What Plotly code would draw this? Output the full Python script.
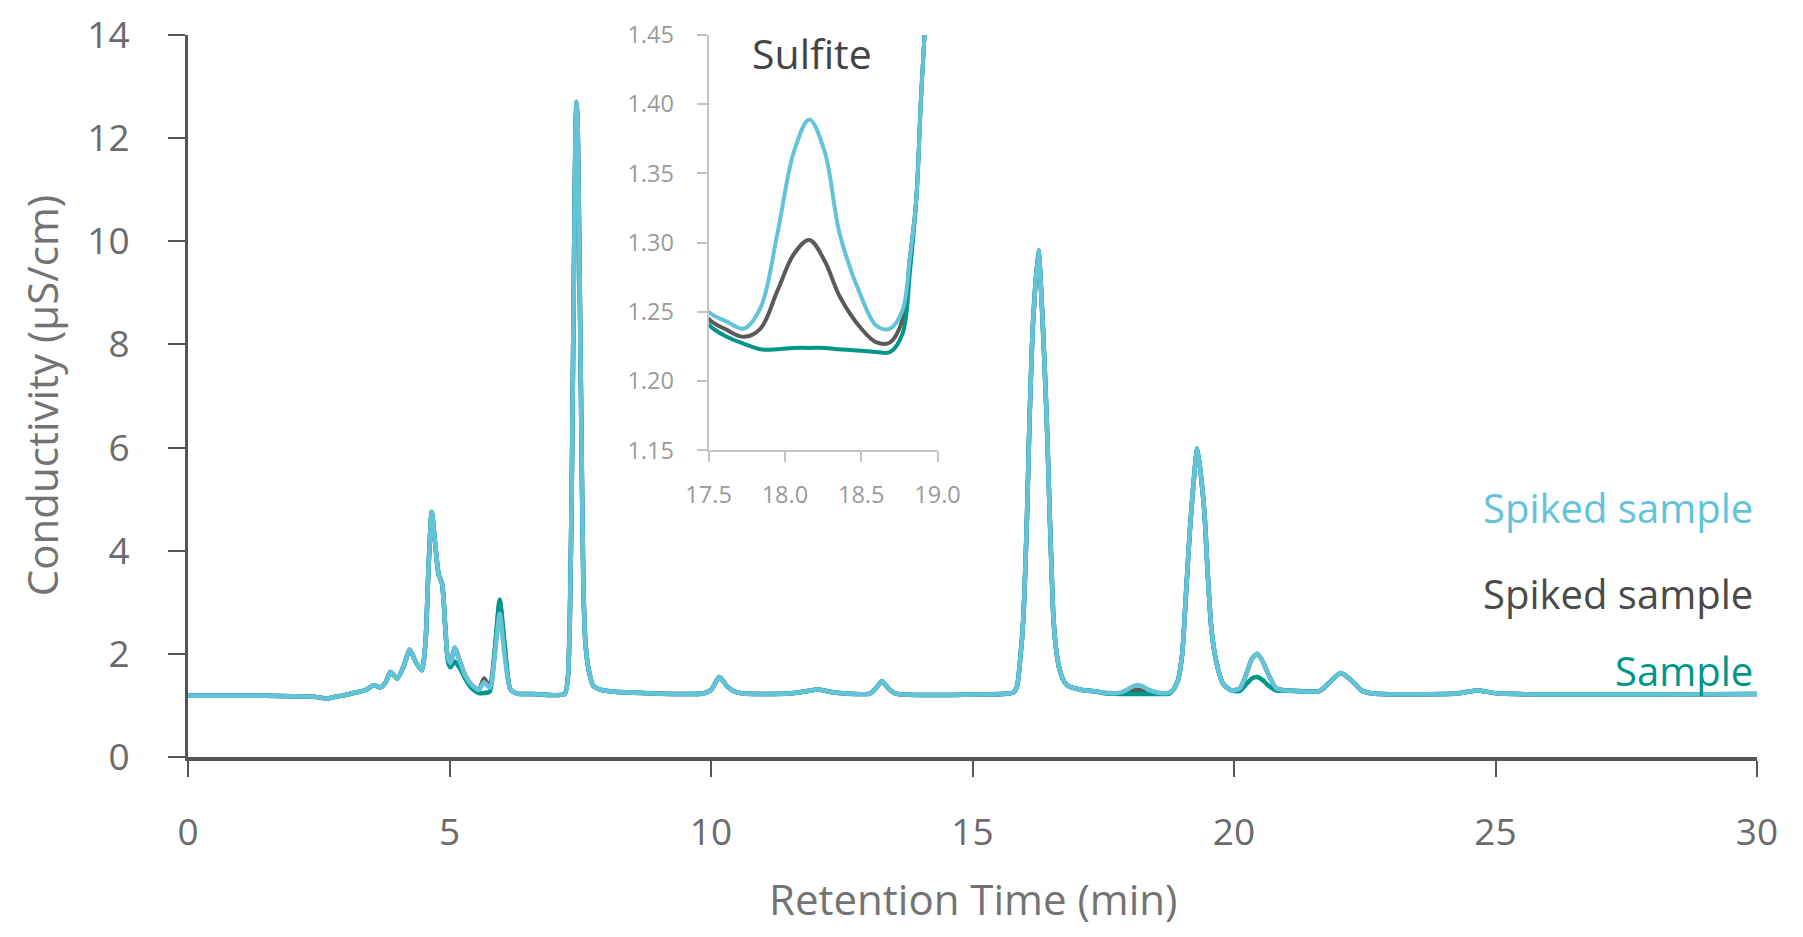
import plotly.graph_objects as go

# Retention time (min), shared by all three chromatograms
time_min = [0.0, 1.0, 2.0, 2.4, 2.55, 2.65, 2.78, 3.0, 3.2, 3.4, 3.55, 3.68, 3.78, 3.87, 4.0,
            4.12, 4.24, 4.35, 4.47, 4.54, 4.6, 4.66, 4.72, 4.79, 4.86, 4.92, 4.97, 5.02, 5.10,
            5.20, 5.30, 5.42, 5.56, 5.66, 5.77, 5.87, 5.96, 6.05, 6.16, 6.29, 6.6, 7.2, 7.26,
            7.30, 7.34, 7.38, 7.41, 7.43, 7.45, 7.48, 7.52, 7.56, 7.60, 7.66, 7.75, 7.9, 8.1,
            8.7, 9.85, 10.0, 10.16, 10.3, 10.43, 10.62, 11.5, 11.8, 12.05, 12.3, 12.6, 13.04,
            13.15, 13.27, 13.4, 13.53, 15.7, 15.78, 15.85, 15.91, 15.97, 16.04, 16.09, 16.16,
            16.26, 16.34, 16.42, 16.48, 16.55, 16.61, 16.67, 16.76, 16.86, 17.1, 17.37, 17.5,
            17.62, 17.73, 17.84, 17.95, 18.06, 18.16, 18.26, 18.36, 18.50, 18.60, 18.69, 18.77,
            18.82, 18.86, 18.89, 18.93, 19.01, 19.09, 19.17, 19.30, 19.43, 19.50, 19.57, 19.67,
            19.79, 19.95, 20.11, 20.24, 20.34, 20.44, 20.55, 20.65, 20.81, 21.0, 21.64, 21.83,
            22.04, 22.25, 22.44, 22.66, 24.25, 24.64, 25.08, 30.0]

# Conductivity (uS/cm) - spiked sample (light blue)
spiked_blue = [1.19, 1.19, 1.18, 1.17, 1.15, 1.13, 1.16, 1.20, 1.25, 1.30, 1.39, 1.35, 1.45, 1.65, 1.52,
               1.75, 2.08, 1.85, 1.68, 2.2, 3.7, 4.75, 4.2, 3.55, 3.35, 2.5, 1.9, 1.82, 2.12,
               1.85, 1.58, 1.40, 1.30, 1.45, 1.34, 2.0, 2.78, 2.0, 1.32, 1.23, 1.22, 1.22, 1.5,
               2.6, 5.5, 9.5, 12.2, 12.7, 12.3, 10.0, 6.5, 3.3, 2.2, 1.7, 1.38, 1.30, 1.27,
               1.24, 1.23, 1.30, 1.55, 1.38, 1.28, 1.23, 1.23, 1.27, 1.31, 1.26, 1.23, 1.23,
               1.33, 1.47, 1.32, 1.23, 1.23, 1.25, 1.36, 1.87, 2.65, 4.59, 6.53, 8.47,
               9.82, 8.47, 6.53, 4.59, 2.65, 2.0, 1.68, 1.45, 1.36, 1.30, 1.27, 1.250,
               1.243, 1.238, 1.253, 1.306, 1.366, 1.389, 1.366, 1.306, 1.261, 1.240, 1.238, 1.251,
               1.29, 1.33, 1.40, 1.49, 2.0, 3.30, 4.59, 5.98, 4.8, 3.5, 2.46, 1.81,
               1.42, 1.29, 1.33, 1.62, 1.90, 2.0, 1.85, 1.62, 1.33, 1.29, 1.28, 1.45,
               1.63, 1.48, 1.29, 1.23, 1.23, 1.29, 1.23, 1.22]

# Conductivity (uS/cm) - spiked sample (dark grey)
spiked_grey = [1.19, 1.19, 1.18, 1.17, 1.15, 1.13, 1.16, 1.20, 1.25, 1.30, 1.39, 1.35, 1.45, 1.65, 1.52,
               1.75, 2.08, 1.85, 1.68, 2.2, 3.7, 4.75, 4.2, 3.55, 3.35, 2.5, 1.9, 1.82, 2.12,
               1.85, 1.58, 1.40, 1.30, 1.52, 1.36, 2.1, 3.0, 2.2, 1.32, 1.23, 1.22, 1.22, 1.5,
               2.6, 5.5, 9.5, 12.2, 12.7, 12.3, 10.0, 6.5, 3.3, 2.2, 1.7, 1.38, 1.30, 1.27,
               1.24, 1.23, 1.30, 1.55, 1.38, 1.28, 1.23, 1.23, 1.27, 1.31, 1.26, 1.23, 1.23,
               1.33, 1.47, 1.32, 1.23, 1.23, 1.25, 1.36, 1.87, 2.65, 4.59, 6.53, 8.47,
               9.82, 8.47, 6.53, 4.59, 2.65, 2.0, 1.68, 1.45, 1.36, 1.30, 1.27, 1.245,
               1.237, 1.232, 1.238, 1.265, 1.292, 1.302, 1.287, 1.261, 1.238, 1.228, 1.228, 1.244,
               1.29, 1.33, 1.40, 1.49, 2.0, 3.30, 4.59, 5.98, 4.8, 3.5, 2.46, 1.81,
               1.42, 1.29, 1.33, 1.62, 1.90, 2.0, 1.85, 1.62, 1.33, 1.29, 1.28, 1.45,
               1.63, 1.48, 1.29, 1.23, 1.23, 1.29, 1.23, 1.22]

# Conductivity (uS/cm) - sample (teal)
sample_teal = [1.19, 1.19, 1.18, 1.17, 1.15, 1.13, 1.16, 1.20, 1.25, 1.30, 1.39, 1.35, 1.45, 1.65, 1.52,
               1.75, 2.08, 1.85, 1.68, 2.2, 3.7, 4.75, 4.2, 3.55, 3.35, 2.5, 1.85, 1.74, 1.85,
               1.72, 1.52, 1.34, 1.24, 1.24, 1.27, 2.1, 3.05, 2.2, 1.32, 1.23, 1.22, 1.22, 1.5,
               2.6, 5.5, 9.5, 12.2, 12.7, 12.3, 10.0, 6.5, 3.3, 2.2, 1.7, 1.38, 1.30, 1.27,
               1.24, 1.23, 1.30, 1.55, 1.38, 1.28, 1.23, 1.23, 1.27, 1.31, 1.26, 1.23, 1.23,
               1.33, 1.47, 1.32, 1.23, 1.23, 1.25, 1.36, 1.87, 2.65, 4.59, 6.53, 8.47,
               9.82, 8.47, 6.53, 4.59, 2.65, 2.0, 1.68, 1.45, 1.36, 1.30, 1.27, 1.241,
               1.232, 1.227, 1.223, 1.223, 1.224, 1.224, 1.224, 1.223, 1.222, 1.221, 1.221, 1.234,
               1.28, 1.33, 1.40, 1.49, 2.0, 3.30, 4.59, 5.98, 4.8, 3.5, 2.46, 1.81,
               1.42, 1.29, 1.28, 1.42, 1.52, 1.55, 1.49, 1.39, 1.29, 1.29, 1.28, 1.45,
               1.63, 1.48, 1.29, 1.23, 1.23, 1.29, 1.23, 1.22]

x_ticks = [0, 5, 10, 15, 20, 25, 30]
y_ticks = [0, 2, 4, 6, 8, 10, 12, 14]
inset_x_ticks = [17.5, 18.0, 18.5, 19.0]
inset_y_ticks = [1.15, 1.20, 1.25, 1.30, 1.35, 1.40, 1.45]

BLUE = "#62c3d9"
GREY = "#5a5a5a"
TEAL = "#00968a"
FONT = "Open Sans"

series = [("Spiked sample (grey)", spiked_grey, GREY),
          ("Sample", sample_teal, TEAL),
          ("Spiked sample", spiked_blue, BLUE)]

fig = go.Figure()
for name, vals, col in series:
    fig.add_trace(go.Scatter(x=time_min, y=vals, mode="lines", name=name,
                             line=dict(color=col, width=4.5, shape="spline", smoothing=0.6),
                             xaxis="x", yaxis="y", showlegend=False, hoverinfo="skip"))
for name, vals, col in series:
    fig.add_trace(go.Scatter(x=time_min, y=vals, mode="lines", name=name,
                             line=dict(color=col, width=4, shape="spline", smoothing=1.0),
                             xaxis="x2", yaxis="y2", showlegend=False, hoverinfo="skip"))

fig.update_layout(
    width=1787, height=921,
    margin=dict(l=179.5, r=38, t=26.5, b=172.3, autoexpand=False),
    paper_bgcolor="white", plot_bgcolor="white",
    font=dict(family=FONT),
    xaxis=dict(range=[0, 30], tickvals=x_ticks, ticks="outside", ticklen=16, tickwidth=2,
               tickcolor="#555555", showline=True, linewidth=4, linecolor="#555555",
               showgrid=False, zeroline=False, tickfont=dict(size=37, color="#6b6b6b"),
               ticklabelstandoff=24, automargin=False, ticklabeloverflow="allow"),
    yaxis=dict(range=[0, 14], tickvals=y_ticks, ticks="outside", ticklen=17, tickwidth=2,
               tickcolor="#555555", showline=True, linewidth=3, linecolor="#555555",
               showgrid=False, zeroline=False, tickfont=dict(size=37, color="#6b6b6b"),
               ticklabelstandoff=31, automargin=False, ticklabeloverflow="allow"),
    xaxis2=dict(domain=[0.3318, 0.4777], anchor="y2", range=[17.5, 19.0],
                tickvals=inset_x_ticks, tickformat=".1f", ticks="outside", ticklen=10,
                tickwidth=2, tickcolor="#c4c4c4", showline=True, linewidth=2,
                linecolor="#c4c4c4", showgrid=False, zeroline=False,
                tickfont=dict(size=23.5, color="#9a9a9a"), ticklabelstandoff=12,
                automargin=False, ticklabeloverflow="allow"),
    yaxis2=dict(domain=[0.4247, 1.0], anchor="x2", range=[1.15, 1.45],
                tickvals=inset_y_ticks, tickformat=".2f", ticks="outside", ticklen=10,
                tickwidth=2, tickcolor="#c4c4c4", showline=True, linewidth=2,
                linecolor="#c4c4c4", showgrid=False, zeroline=False,
                tickfont=dict(size=23.5, color="#9a9a9a"), ticklabelstandoff=18,
                automargin=False, ticklabeloverflow="allow"),
)

ann = [
    dict(text="Retention Time (min)", x=0.5, y=-0.2383, xanchor="center", yanchor="bottom",
         font=dict(size=42, color="#737373")),
    dict(text="Conductivity (µS/cm)", x=-0.0936, y=0.5, textangle=-90, xanchor="center",
         yanchor="middle", font=dict(size=42, color="#737373")),
    dict(text="Sulfite", x=0.3975, y=0.9744, xanchor="center", yanchor="middle",
         font=dict(size=41, color="#444444")),
    dict(text="Spiked sample", x=0.9987, y=0.3458, xanchor="right", yanchor="middle",
         font=dict(size=40, color=BLUE)),
    dict(text="Spiked sample", x=0.9987, y=0.2267, xanchor="right", yanchor="middle",
         font=dict(size=40, color="#4a4a4a")),
    dict(text="Sample", x=0.9987, y=0.12, xanchor="right", yanchor="middle",
         font=dict(size=40, color=TEAL)),
]
for a in ann:
    a.update(xref="paper", yref="paper", showarrow=False)
fig.update_layout(annotations=ann)

fig.write_html("out.html")
